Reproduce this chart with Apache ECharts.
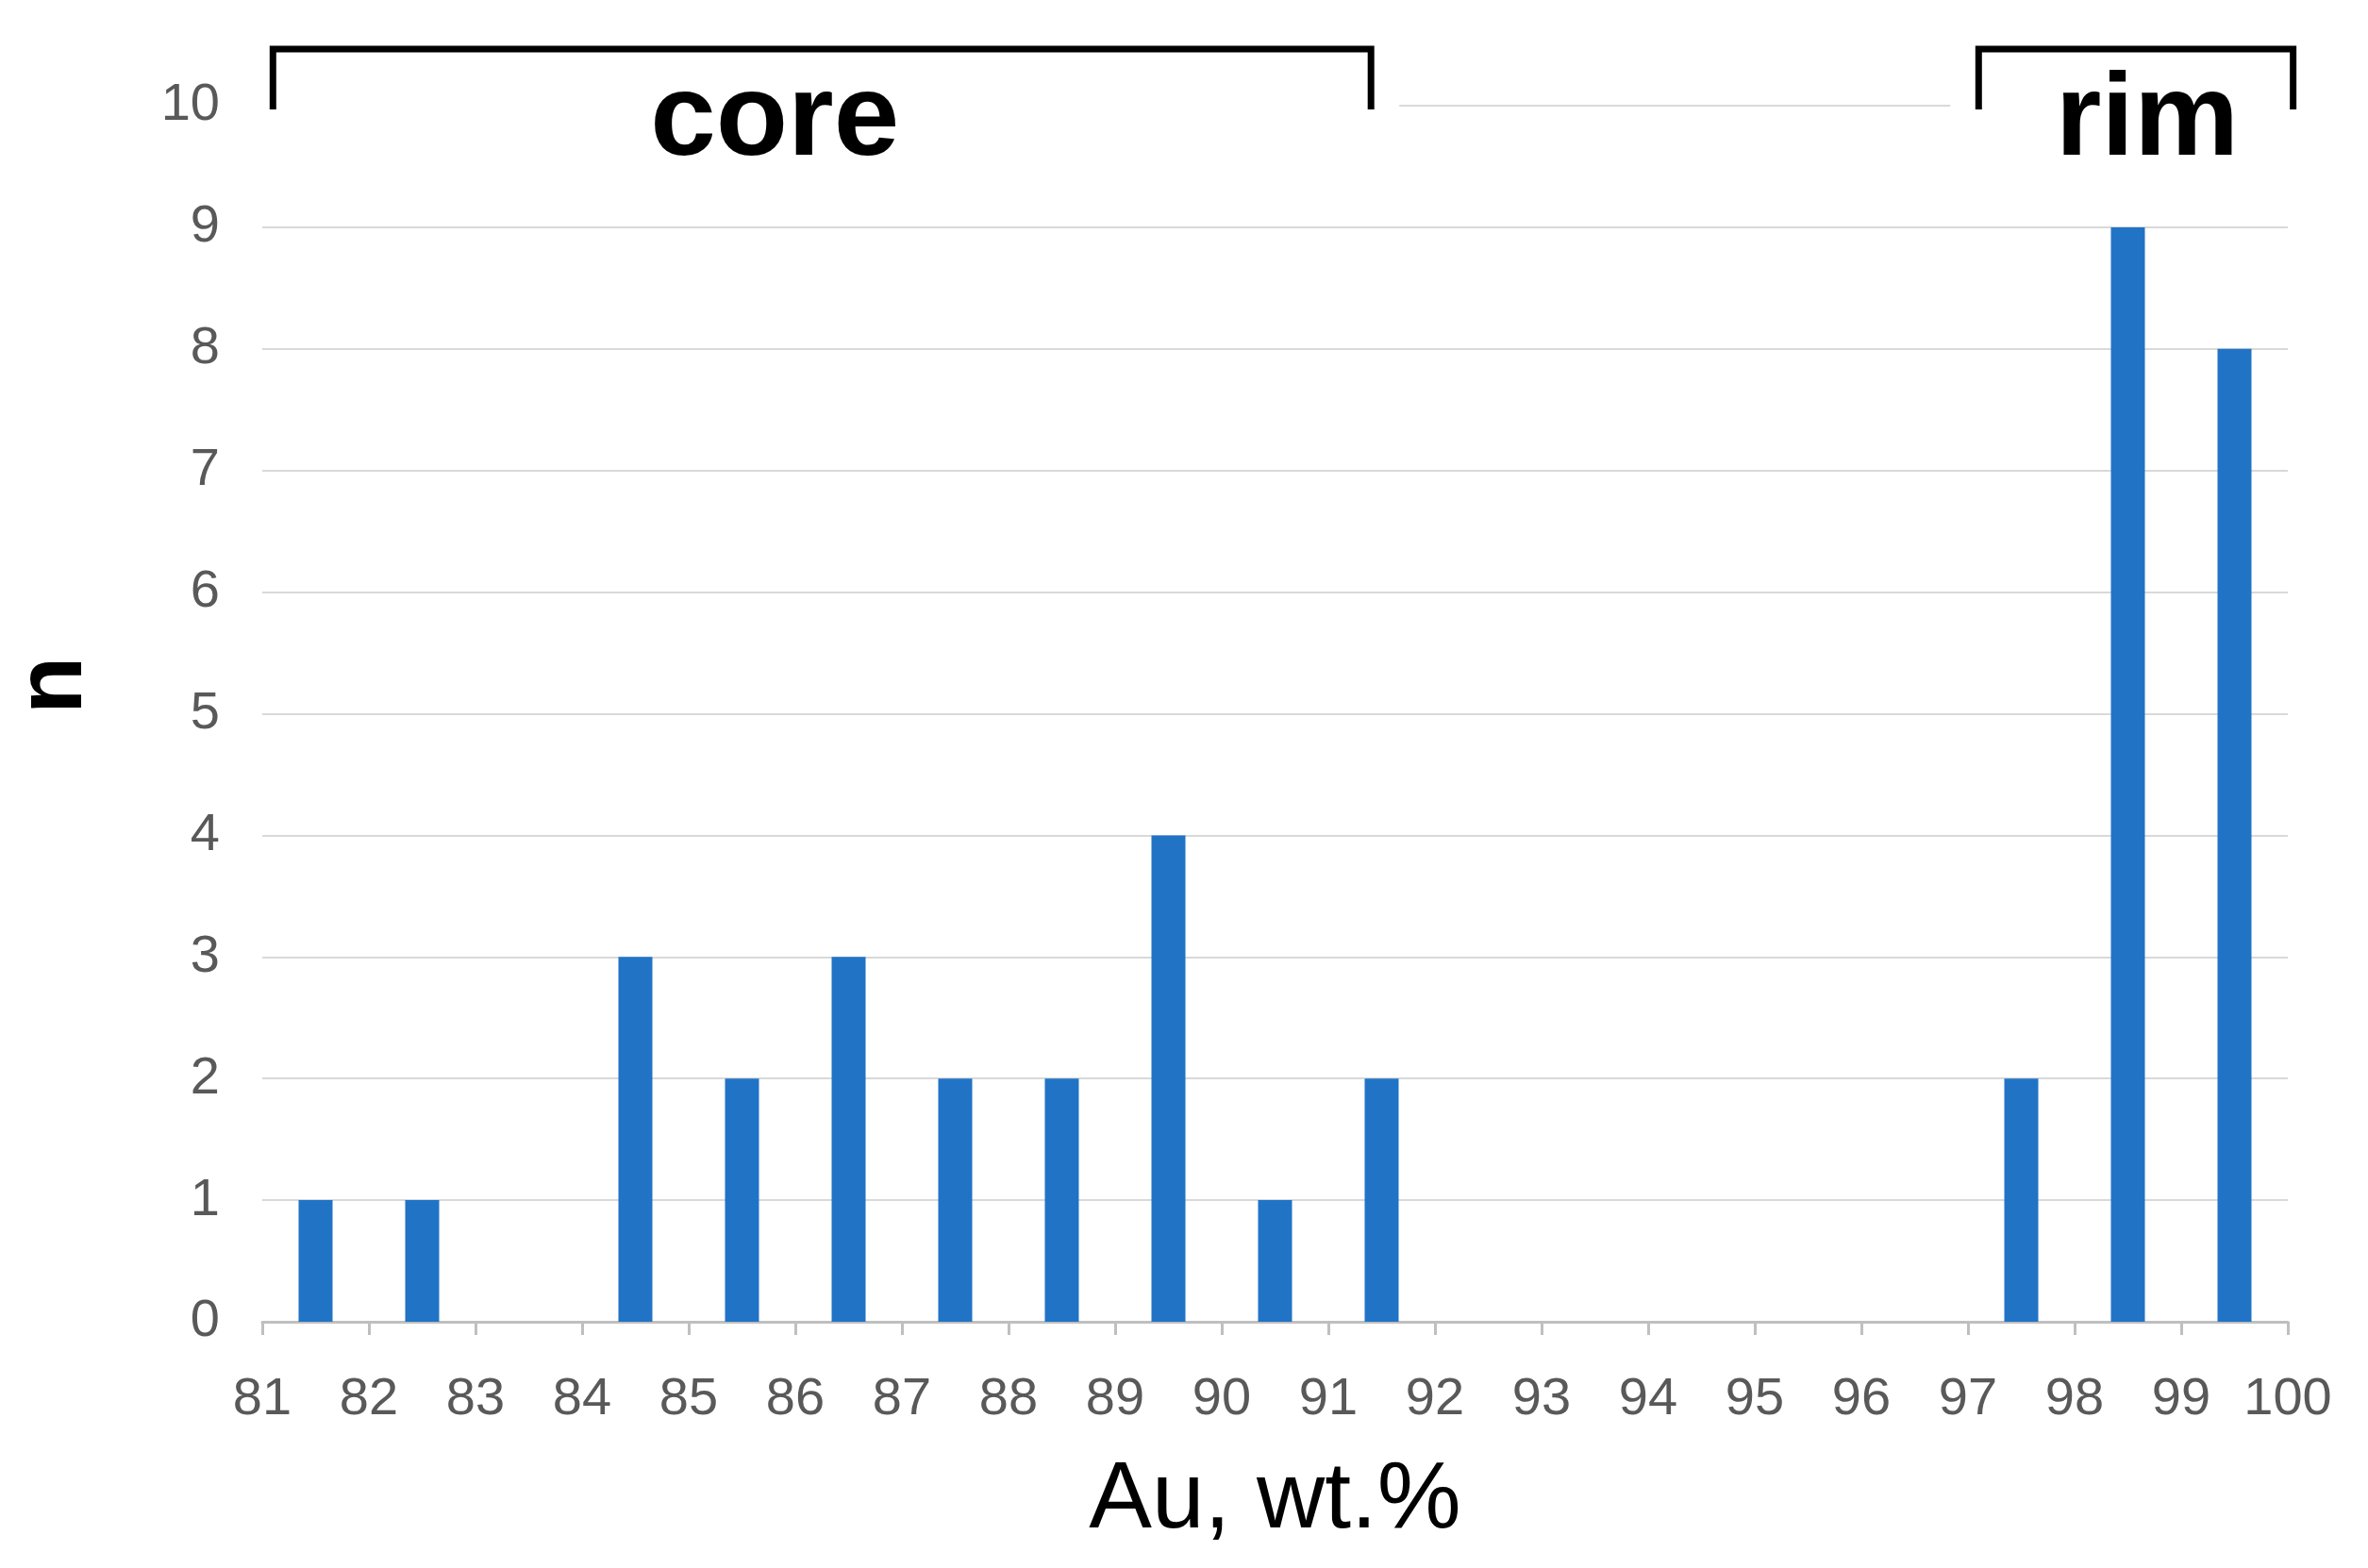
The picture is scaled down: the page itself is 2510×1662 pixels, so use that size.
<!DOCTYPE html>
<html><head><meta charset="utf-8">
<script src="https://cdn.jsdelivr.net/npm/echarts@6/dist/echarts.min.js"></script>
<style>html,body{margin:0;background:#fff}#c{width:2510px;height:1662px}</style>
</head><body><div id="c"></div>
<script>
// bin centres (Au, wt.%) and counts
const binCentres = [81.5, 82.5, 84.5, 85.5, 86.5, 87.5, 88.5, 89.5, 90.5, 91.5, 97.5, 98.5, 99.5];
const counts = [1, 1, 3, 2, 3, 2, 2, 4, 1, 2, 2, 9, 8];
const groups = [
  { name: 'core', from: 81.1, to: 91.4 },
  { name: 'rim', from: 97.1, to: 100.05 }
];

const chart = echarts.init(document.getElementById('c'));
const grey = '#595959';
chart.setOption({
  animation: false,
  grid: { left: 272, right: 85, top: 112, bottom: 261 },
  xAxis: {
    type: 'value', min: 81, max: 100, interval: 1,
    name: 'Au, wt.%', nameLocation: 'middle', nameGap: 140,
    nameTextStyle: { fontSize: 100, color: '#000', fontFamily: 'Arial, Liberation Sans' },
    axisLine: { show: true, lineStyle: { color: '#bfbfbf', width: 3 } },
    axisTick: { show: true, length: 14, lineStyle: { color: '#bfbfbf', width: 3 } },
    axisLabel: { fontSize: 56, color: grey, margin: 55, fontFamily: 'Liberation Sans' },
    splitLine: { show: false }
  },
  yAxis: {
    type: 'value', min: 0, max: 10, interval: 1,
    name: 'n', nameLocation: 'middle', nameGap: 170, nameRotate: 90,
    nameTextStyle: { fontSize: 100, fontWeight: 'bold', color: '#000', fontFamily: 'Liberation Sans', padding: [0, 0, 0, 60] },
    axisLine: { show: false }, axisTick: { show: false },
    axisLabel: { fontSize: 56, color: grey, margin: 45, fontFamily: 'Liberation Sans' },
    splitLine: { lineStyle: { color: '#d9d9d9', width: 2 } }
  },
  series: [{
    type: 'bar', barWidth: 36,
    itemStyle: { color: '#2173c6' },
    data: binCentres.map((x, i) => [x, counts[i]])
  }]
});

// bracket annotations placed through the axes' scales
const gfx = [];
groups.forEach(g => {
  const a = chart.convertToPixel({ gridIndex: 0 }, [g.from, 10]);
  const b = chart.convertToPixel({ gridIndex: 0 }, [g.to, 10]);
  const top = a[1] - 60, bottom = a[1] + 4;
  gfx.push({ type: 'rect', shape: { x: a[0] - 30, y: top - 5, width: b[0] - a[0] + 60, height: 140 },
    style: { fill: '#fff' }, z: 90 });
  gfx.push({ type: 'polyline', shape: { points: [[a[0], bottom], [a[0], top], [b[0], top], [b[0], bottom]] },
    style: { stroke: '#000', lineWidth: 7, fill: null }, z: 100 });
  gfx.push({ type: 'text', x: (a[0] + b[0]) / 2 - (g.name === 'rim' ? -12 : 50), y: top + 78,
    style: { text: g.name, font: 'bold 125px Liberation Sans, Arial', fill: '#000', align: 'center', verticalAlign: 'middle' }, z: 100 });
});
chart.setOption({ graphic: gfx });
</script></body></html>
